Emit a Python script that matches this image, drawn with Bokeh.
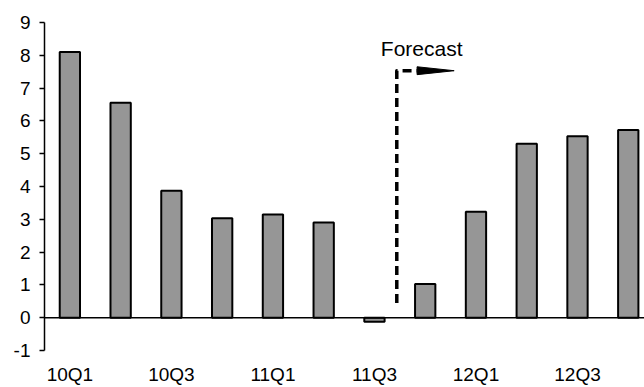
from bokeh.plotting import figure
from bokeh.models import Range1d, FixedTicker, Span, ColumnDataSource
from bokeh.core.properties import value
from bokeh.embed import file_html
from bokeh.resources import INLINE

# ---- data ----
quarters = ["10Q1", "10Q2", "10Q3", "10Q4", "11Q1", "11Q2",
            "11Q3", "11Q4", "12Q1", "12Q2", "12Q3", "12Q4"]
growth = [8.1, 6.55, 3.87, 3.03, 3.15, 2.9, -0.12, 1.03, 3.23, 5.3, 5.53, 5.72]
y_ticks = [-1, 0, 1, 2, 3, 4, 5, 6, 7, 8, 9]
forecast_label = "Forecast"

# forecast marker position (data units)
fc_x = 6.44
fc_y0 = 0.45
fc_y1 = 7.53
fc_x_end = 6.84
fc_head_tip = 7.57
fc_head_half = 0.12
fc_text_x = 6.93
fc_text_y = 8.2

FONT = "Liberation Sans"

x_idx = list(range(len(quarters)))
src = ColumnDataSource(dict(x=x_idx, top=growth, q=quarters))

p = figure(width=644, height=387, output_backend="svg", toolbar_location=None,
           x_range=Range1d(-0.5, 11.32), y_range=Range1d(-1, 9),
           min_border_left=44, min_border_right=0, min_border_top=22, min_border_bottom=37)
p.outline_line_color = None
p.grid.visible = False
p.background_fill_color = "white"
p.border_fill_color = "white"

p.vbar(x="x", top="top", bottom=0, width=0.4, source=src,
       fill_color="#969696", line_color="black", line_width=2)

zero = Span(location=0, dimension="width", line_color="black", line_width=1.5)
p.add_layout(zero)

# y axis
ya = p.yaxis[0]
ya.ticker = FixedTicker(ticks=y_ticks)
ya.major_label_overrides = {t: str(t) for t in y_ticks}
ya.axis_line_color = "black"
ya.axis_line_width = 1.5
ya.major_tick_line_color = "black"
ya.major_tick_line_width = 1.5
ya.major_tick_out = 5
ya.major_tick_in = 0
ya.minor_tick_line_color = None
ya.major_label_standoff = 9
ya.major_label_text_font = FONT
ya.major_label_text_font_size = "19px"
ya.major_label_text_color = "black"

# x axis: labels for every other quarter
xa = p.xaxis[0]
xa.ticker = FixedTicker(ticks=x_idx[::2])
xa.major_label_overrides = {i: quarters[i] for i in x_idx[::2]}
xa.axis_line_color = None
xa.major_tick_line_color = None
xa.minor_tick_line_color = None
xa.major_tick_out = 0
xa.major_tick_in = 0
xa.major_label_standoff = 13
xa.major_label_text_font = FONT
xa.major_label_text_font_size = "19px"
xa.major_label_text_color = "black"

# forecast arrow
p.line([fc_x, fc_x, fc_x_end], [fc_y0, fc_y1, fc_y1], line_color="black",
       line_width=3.5, line_dash="9 5", line_join="round")
p.patch([fc_x_end, fc_head_tip, fc_x_end], [fc_y1 + fc_head_half, fc_y1, fc_y1 - fc_head_half],
        fill_color="black", line_color="black", line_width=1)
p.text(x=[fc_text_x], y=[fc_text_y], text=[forecast_label], text_align="center",
       text_baseline="middle", text_font=value(FONT), text_font_size="21px",
       text_color="black")

open("out.html", "w").write(file_html(p, INLINE))
